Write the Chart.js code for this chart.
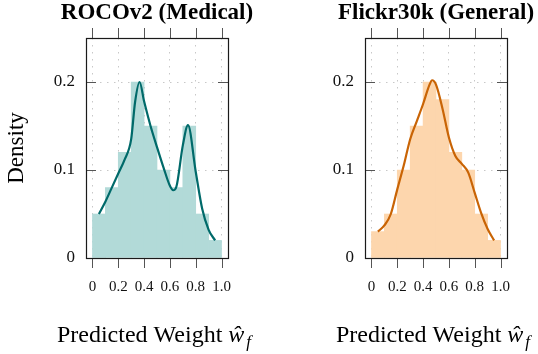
<!DOCTYPE html>
<html>
<head>
<meta charset="utf-8">
<script src="https://cdn.jsdelivr.net/npm/chart.js@4.4.1/dist/chart.umd.min.js"></script>
<style>
  html, body { margin: 0; padding: 0; background: #fff; }
  #wrap { position: relative; width: 538px; height: 354px; }
  canvas { position: absolute; top: 0; }
</style>
</head>
<body>
<div id="wrap">
  <canvas id="roco" width="269" height="354" style="left:0"></canvas>
  <canvas id="flickr" width="269" height="354" style="left:269px"></canvas>
</div>
<script>
// histogram bins (centres) and heights
const binCenters = [0.05, 0.15, 0.25, 0.35, 0.45, 0.55, 0.65, 0.75, 0.85, 0.95];
const rocoHist   = [0.05, 0.08, 0.12, 0.20, 0.15, 0.10, 0.08, 0.15, 0.05, 0.02];
const flickrHist = [0.03, 0.05, 0.10, 0.15, 0.20, 0.18, 0.12, 0.10, 0.05, 0.02];

// density curves
const rocoKdeX = [0.05, 0.10, 0.15, 0.20, 0.25, 0.30, 0.33, 0.365, 0.40, 0.45, 0.50, 0.55, 0.60, 0.625, 0.65, 0.70, 0.74, 0.80, 0.85, 0.90, 0.95];
const rocoKdeY = [0.050, 0.064, 0.080, 0.096, 0.112, 0.135, 0.177, 0.200, 0.178, 0.150, 0.126, 0.103, 0.082, 0.077, 0.081, 0.128, 0.151, 0.098, 0.056, 0.032, 0.020];
const flickrKdeX = [0.05, 0.10, 0.15, 0.20, 0.25, 0.30, 0.35, 0.40, 0.45, 0.47, 0.50, 0.55, 0.60, 0.65, 0.70, 0.75, 0.80, 0.85, 0.90, 0.95];
const flickrKdeY = [0.030, 0.037, 0.050, 0.078, 0.105, 0.135, 0.155, 0.175, 0.197, 0.202, 0.197, 0.170, 0.137, 0.116, 0.107, 0.097, 0.074, 0.051, 0.033, 0.020];

const xTicks = [0, 0.2, 0.4, 0.6, 0.8, 1.0];
const yTicks = [0, 0.1, 0.2];

const SERIF = "'Liberation Serif', 'Times New Roman', serif";

function fmt(v) {
  return Math.abs(v) < 1e-9 ? '0' : v.toFixed(1);
}

// box, pgfplots-style tick marks, title and x label
const framePlugin = {
  id: 'frame',
  afterDatasetsDraw(chart, args, opts) {
    const ctx = chart.ctx;
    const a = chart.chartArea;
    const xs = chart.scales.x, ys = chart.scales.y;
    ctx.save();

    ctx.strokeStyle = '#555';
    ctx.lineWidth = 1;
    ctx.beginPath();
    xTicks.forEach(v => {
      const px = Math.round(xs.getPixelForValue(v)) + 0.5;
      ctx.moveTo(px, a.bottom); ctx.lineTo(px, a.bottom + 10);
      ctx.moveTo(px, a.top - 10); ctx.lineTo(px, a.top);
    });
    yTicks.forEach(v => {
      const py = Math.round(ys.getPixelForValue(v)) + 0.5;
      ctx.moveTo(a.left, py); ctx.lineTo(a.left + 10, py);
      ctx.moveTo(a.right - 10, py); ctx.lineTo(a.right, py);
    });
    ctx.stroke();

    ctx.strokeStyle = '#1a1a1a';
    ctx.lineWidth = 1.2;
    ctx.strokeRect(Math.round(a.left) + 0.5, Math.round(a.top) + 0.5,
                   Math.round(a.right - a.left), Math.round(a.bottom - a.top));

    const cx = (a.left + a.right) / 2;
    ctx.fillStyle = '#000';
    ctx.textBaseline = 'alphabetic';
    ctx.textAlign = 'center';
    ctx.font = `bold 23px ${SERIF}`;
    ctx.fillText(opts.title, cx, 19);

    // "Predicted Weight ŵ_f"
    const parts = [
      { text: 'Predicted Weight ', font: `24px ${SERIF}`, dy: 0, gap: 0 },
      { text: 'ŵ', font: `italic 24px ${SERIF}`, dy: 0, gap: 2 },
      { text: 'f', font: `italic 17px ${SERIF}`, dy: 5, gap: 0 },
    ];
    let total = 0;
    parts.forEach(p => { ctx.font = p.font; p.w = ctx.measureText(p.text).width; total += p.w + p.gap; });
    let x = cx - 3 - total / 2;
    ctx.textAlign = 'left';
    parts.forEach(p => {
      ctx.font = p.font;
      ctx.fillText(p.text, x, 342 + p.dy);
      x += p.w + p.gap;
    });
    ctx.restore();
  }
};

function makePanel(id, hist, kdeX, kdeY, fill, line, title, yTitle, yWidth, padRight) {
  const bars = binCenters.map((c, i) => ({ x: c, y: hist[i] }));
  const curve = kdeX.map((v, i) => ({ x: v, y: kdeY[i] }));
  const dotted = { display: false, dash: [1.5, 5.5] };
  return new Chart(document.getElementById(id), {
    type: 'bar',
    data: {
      datasets: [
        {
          type: 'line', data: curve, order: 0,
          borderColor: line, borderWidth: 2.2, pointRadius: 0,
          cubicInterpolationMode: 'monotone', fill: false
        },
        {
          type: 'bar', data: bars, order: 1,
          backgroundColor: fill, borderWidth: 0, borderSkipped: false,
          barPercentage: 1.0, categoryPercentage: 1.0
        }
      ]
    },
    options: {
      responsive: false,
      animation: false,
      layout: { padding: { left: 0, top: 38, right: padRight, bottom: 0 } },
      plugins: {
        legend: { display: false },
        tooltip: { enabled: false },
        frame: { title: title }
      },
      scales: {
        x: {
          type: 'linear', position: 'bottom', min: -0.05, max: 1.05, offset: false,
          afterBuildTicks: s => { s.ticks = xTicks.map(v => ({ value: v })); },
          afterFit: s => { s.height = 96; },
          ticks: {
            callback: fmt, padding: 20, color: '#111',
            font: { family: SERIF, size: 15 }
          },
          grid: { color: '#c8c8c8', lineWidth: 1, drawTicks: false, offset: false },
          border: dotted
        },
        y: {
          min: 0, max: 0.25,
          afterBuildTicks: s => { s.ticks = yTicks.map(v => ({ value: v })); },
          afterFit: s => { s.width = yWidth; },
          ticks: {
            callback: fmt, padding: 11, color: '#111',
            font: { family: SERIF, size: 17 }
          },
          grid: { color: '#c8c8c8', lineWidth: 1, drawTicks: false },
          border: dotted,
          title: {
            display: !!yTitle, text: yTitle || '', color: '#000',
            font: { family: SERIF, size: 23 }, padding: { top: 3, bottom: 0 }
          }
        }
      }
    },
    plugins: [framePlugin]
  });
}

makePanel('roco', rocoHist, rocoKdeX, rocoKdeY, '#b2dad8', '#006a6a',
  'ROCOv2 (Medical)', 'Density', 86, 41);
makePanel('flickr', flickrHist, flickrKdeX, flickrKdeY, '#fdd6ad', '#c96405',
  'Flickr30k (General)', null, 96, 31);
</script>
</body>
</html>
